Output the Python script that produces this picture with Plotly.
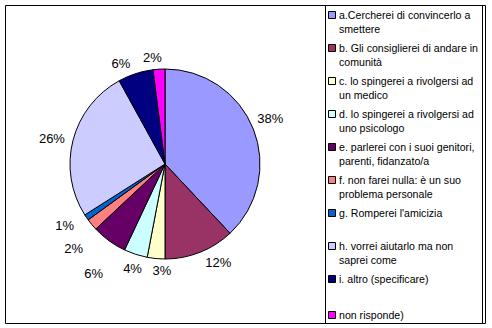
import plotly.graph_objects as go

W, H = 492, 328

labels = [
    "a.Cercherei di convincerlo a<br>smettere",
    "b. Gli consiglierei di andare in<br>comunità",
    "c. lo spingerei a rivolgersi ad<br>un medico",
    "d. lo spingerei a rivolgersi ad<br>uno psicologo",
    "e. parlerei con i suoi genitori,<br>parenti, fidanzato/a",
    "f. non farei nulla: è un suo<br>problema personale",
    "g. Romperei l'amicizia",
    "h. vorrei aiutarlo ma non<br>saprei come",
    "i. altro (specificare)",
    "non risponde)",
]
values = [38, 12, 3, 4, 6, 2, 1, 26, 6, 2]
colors = ["#9999FF", "#993366", "#FFFFCC", "#CCFFFF", "#660066",
          "#FF8080", "#0066CC", "#CCCCFF", "#000080", "#FF00FF"]
# vertical centre (px from top) of the first text line of each legend row
legend_rows = [15, 48, 81, 114, 147, 180, 213, 246, 279, 315]

FONT = "Liberation Sans, Arial, sans-serif"

CX, CY, R = 165, 164, 95      # pie centre and radius (px)

# percentage labels: (slice indices, ring radius px, angular nudge in degrees,
# horizontal nudge px); each group is its own transparent ring so labels
# never push each other around
label_rings = [
    ([0], 99, -5, 0),
    ([1, 7, 8], 99, 0, 0),
    ([2], 99, -4, 13),
    ([3], 99, -7, 0),
    ([4], 119, -7, 0),
    ([5], 112, -6.5, 0),
    ([6], 105, 0, 0),
    ([9], 99, 3, 2),
]


def px(x):
    return x / W


def py(y):
    return 1 - y / H


def domain(r, dx=0):
    return dict(x=[px(CX + dx - r), px(CX + dx + r)], y=[py(CY + r), py(CY - r)])


common = dict(labels=labels, values=values, sort=False,
              direction="clockwise", showlegend=False, hoverinfo="skip")

fig = go.Figure()
# visible slices
fig.add_trace(go.Pie(
    **common,
    rotation=0,
    marker=dict(colors=colors, line=dict(color="black", width=1)),
    textinfo="none",
    domain=domain(R),
))
# percentage labels on transparent rings
for idx, r, rot, dx in label_rings:
    fig.add_trace(go.Pie(
        **common,
        rotation=rot,
        marker=dict(colors=["rgba(0,0,0,0)"] * len(values), line=dict(width=0)),
        textposition=["outside" if i in idx else "none" for i in range(len(values))],
        texttemplate="%{value}%",
        outsidetextfont=dict(family=FONT, size=13, color="black"),
        domain=domain(r, dx),
    ))

shapes = [
    # chart frame
    dict(type="rect", xref="paper", yref="paper",
         x0=px(5.5), x1=px(485.5), y0=py(323.5), y1=py(5.5),
         line=dict(color="black", width=1), fillcolor="rgba(0,0,0,0)"),
    # legend frame
    dict(type="rect", xref="paper", yref="paper",
         x0=px(325.5), x1=px(482.5), y0=py(323.5), y1=py(5.5),
         line=dict(color="black", width=1), fillcolor="rgba(0,0,0,0)"),
]
annotations = []
for lab, col, yc in zip(labels, colors, legend_rows):
    shapes.append(dict(type="rect", xref="paper", yref="paper",
                       x0=px(328.5), x1=px(335.5), y0=py(yc + 3.5), y1=py(yc - 3.5),
                       line=dict(color="black", width=1), fillcolor=col))
    annotations.append(dict(xref="paper", yref="paper", x=px(336.5), y=py(yc - 8),
                            xanchor="left", yanchor="top", align="left",
                            text=lab, showarrow=False,
                            font=dict(family=FONT, size=10.6, color="black")))

fig.update_layout(
    width=W, height=H,
    margin=dict(l=0, r=0, t=0, b=0),
    paper_bgcolor="white",
    plot_bgcolor="white",
    shapes=shapes,
    annotations=annotations,
)

fig.write_html("out.html")
